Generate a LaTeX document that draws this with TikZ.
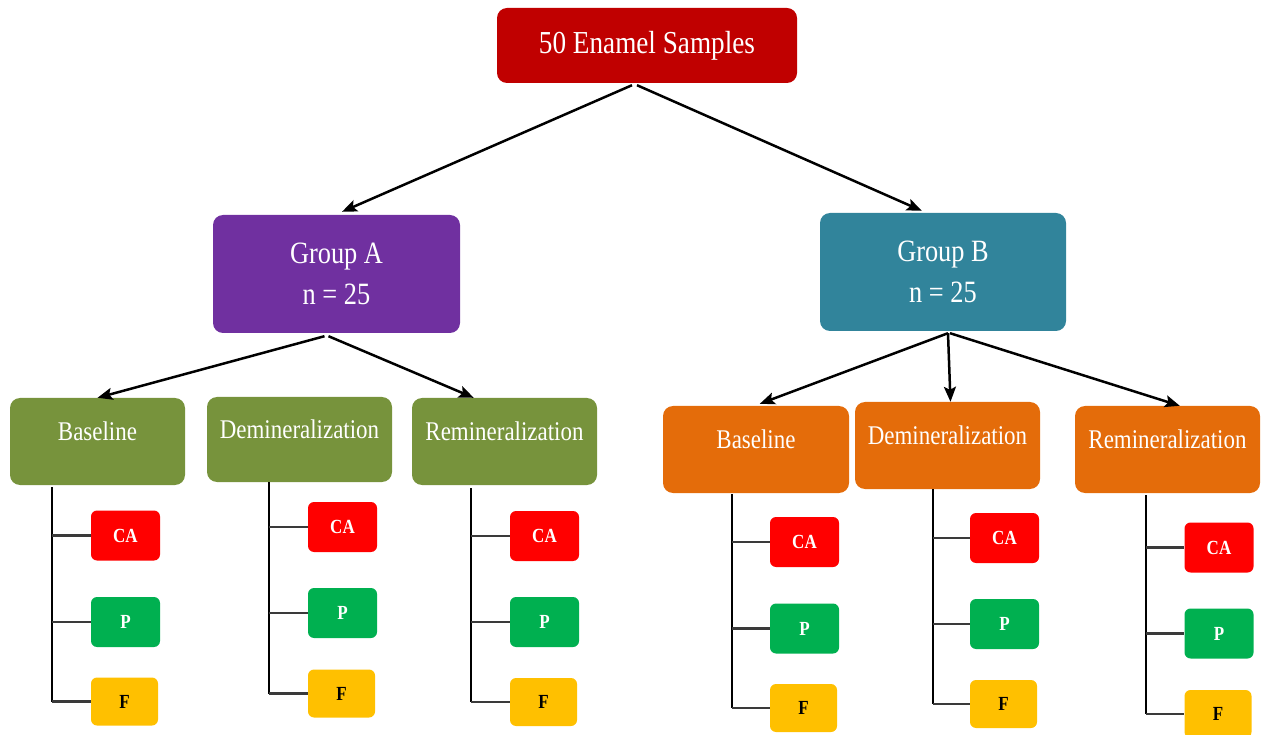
\documentclass[tikz,border=0pt]{standalone}
\usepackage{fontspec}
\setmainfont{Liberation Serif}[FakeStretch=0.85]
\usetikzlibrary{arrows.meta,calc}
\definecolor{topred}{HTML}{C00000}
\definecolor{purp}{HTML}{7030A0}
\definecolor{tealb}{HTML}{31849B}
\definecolor{olive}{HTML}{77933C}
\definecolor{orng}{HTML}{E46C0A}
\definecolor{leafred}{HTML}{FF0000}
\definecolor{leafgreen}{HTML}{00B050}
\definecolor{leafyellow}{HTML}{FFC000}
\definecolor{linegray}{HTML}{3A3A3A}
\begin{document}
\begin{tikzpicture}[x=1pt,y=-1pt,
  box/.style={rounded corners=10pt, inner sep=0pt, text=white},
  grp/.style={box, minimum width=247pt, minimum height=118pt, align=center,
    font=\fontsize{31}{41}\selectfont},
  lvl/.style={box, minimum width=185pt, minimum height=87pt},
  lbl/.style={text=white, font=\fontsize{27}{32}\selectfont, yshift=10pt, inner sep=0pt},
  leaf/.style={rounded corners=6pt, inner sep=0pt, minimum width=69pt, minimum height=50pt,
    font=\fontsize{20}{23}\selectfont\bfseries},
  ca/.style={leaf, fill=leafred, text=white},
  pp/.style={leaf, fill=leafgreen, text=white},
  ff/.style={leaf, fill=leafyellow, text=black, minimum width=67pt, minimum height=48pt},
  arr/.style={-{Stealth[length=15pt,width=12pt,inset=3pt]}, line width=2.5pt, black},
  trunk/.style={line width=1.6pt, black},
  twig/.style={line width=2.2pt, linegray}]
\useasboundingbox (0,0) rectangle (1262,735);

% top
\node[box, fill=topred, minimum width=300pt, minimum height=75pt,
  font=\fontsize{32}{38}\selectfont] (top) at (647,45.5) {50 Enamel Samples};

% groups
\node[grp, fill=purp] (ga) at (336.5,274) {Group A\\n = 25};
\node[grp, fill=tealb, minimum width=246pt] (gb) at (943,272) {Group B\\n = 25};

% level 2 A
\node[lvl, fill=olive, minimum width=175pt, label={[lbl]center:Baseline}] (bA) at (97.5,441.5) {};
\node[lvl, fill=olive, minimum height=85pt, label={[lbl]center:Demineralization}] (dA) at (299.5,439.5) {};
\node[lvl, fill=olive, label={[lbl]center:Remineralization}] (rA) at (504.5,441.5) {};

% level 2 B
\node[lvl, fill=orng, minimum width=186pt, label={[lbl]center:Baseline}] (bB) at (756,449.5) {};
\node[lvl, fill=orng, label={[lbl]center:Demineralization}] (dB) at (947.5,445.5) {};
\node[lvl, fill=orng, label={[lbl]center:Remineralization}] (rB) at (1167.5,449.5) {};

% arrows
\draw[arr] ($(top.south)+(-15,2)$) -- ($(ga.north)+(5.5,-3)$);
\draw[arr] ($(top.south)+(-10,2)$) -- ($(gb.north west)+(102,-2)$);
\draw[arr] ($(ga.south)+(-12,3)$) -- (bA.north);
\draw[arr] ($(ga.south)+(-8,3)$) -- ($(rA.north west)+(62,0)$);
\draw[arr] ($(gb.south)+(5,2)$) -- ($(bB.north west)+(97,-2)$);
\draw[arr] ($(gb.south)+(5,2)$) -- ($(dB.north)+(3,0)$);
\draw[arr] ($(gb.south)+(7,2)$) -- ($(rB.north west)+(105,0)$);

% leaves: Baseline A
\node[ca] (caBA) at (125.5,535.5) {CA};
\node[pp] (pBA) at (125.5,622) {P};
\node[ff] (fBA) at (124.5,701.5) {F};
\coordinate (tBA) at ($(bA.south west)+(42,2)$);
% Demin A
\node[ca] (caDA) at (342.5,527) {CA};
\node[pp] (pDA) at (342.5,613) {P};
\node[ff] (fDA) at (341.5,693.5) {F};
\coordinate (tDA) at ($(dA.south west)+(62,0)$);
% Remin A
\node[ca] (caRA) at (544.5,536) {CA};
\node[pp] (pRA) at (544.5,622) {P};
\node[ff] (fRA) at (543.5,702) {F};
\coordinate (tRA) at ($(rA.south west)+(59,3)$);
% Baseline B
\node[ca] (caBB) at (804.5,542) {CA};
\node[pp] (pBB) at (804.5,628.5) {P};
\node[ff] (fBB) at (803.5,708) {F};
\coordinate (tBB) at ($(bB.south west)+(69,1)$);
% Demin B
\node[ca] (caDB) at (1004.5,538) {CA};
\node[pp] (pDB) at (1004.5,624) {P};
\node[ff] (fDB) at (1003.5,704) {F};
\coordinate (tDB) at ($(dB.south west)+(78,0)$);
% Remin B
\node[ca] (caRB) at (1219,547.5) {CA};
\node[pp] (pRB) at (1219,633.5) {P};
\node[ff] (fRB) at (1218,714) {F};
\coordinate (tRB) at ($(rB.south west)+(71,2)$);

\foreach \s in {BA,DA,RA,BB,DB,RB}{
  \draw[trunk] (t\s) -- (f\s.west -| t\s);
  \draw[twig] (ca\s.west -| t\s) -- (ca\s.west);
  \draw[twig] (p\s.west -| t\s) -- (p\s.west);
  \draw[twig] (f\s.west -| t\s) -- (f\s.west);
}
\end{tikzpicture}
\end{document}
